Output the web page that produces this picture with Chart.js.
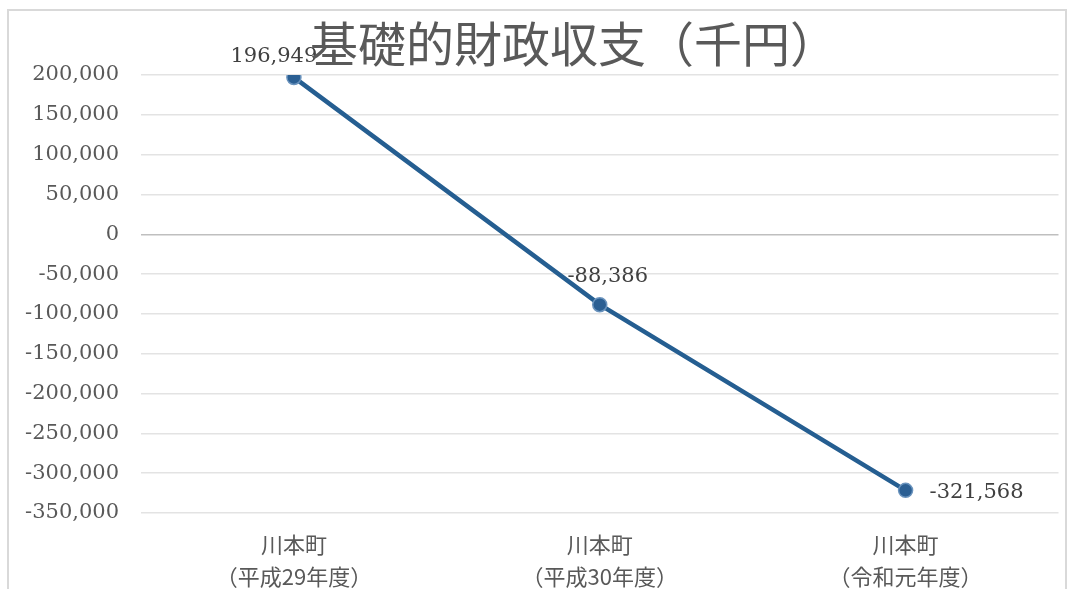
<!DOCTYPE html>
<html>
<head>
<meta charset="utf-8">
<script src="https://cdn.jsdelivr.net/npm/chart.js@4"></script>
<style>
  html, body { margin: 0; padding: 0; background: #fff; overflow: hidden; }
  #wrap { position: absolute; left: 0; top: 0; width: 1067px; height: 589px; }
  #frame { position: absolute; left: 7px; top: 9px; width: 1056px; height: 600px;
           border: 2px solid #d9d9d9; pointer-events: none; }
</style>
</head>
<body>
<div id="wrap"><canvas id="lineChart" width="1067" height="589"></canvas></div>
<div id="frame"></div>
<script>
// データ
const chartTitle = '基礎的財政収支（千円）';
const categories = [
  ['川本町', '（平成29年度）'],
  ['川本町', '（平成30年度）'],
  ['川本町', '（令和元年度）']
];
const values = [196949, -88386, -321568];
const yTicks = [200000, 150000, 100000, 50000, 0, -50000, -100000, -150000, -200000, -250000, -300000, -350000];

const numFont = '"DejaVu Serif", "Liberation Serif", serif';
const jpFont = '"Noto Sans CJK JP", "Noto Sans", sans-serif';
const fmt = v => v.toLocaleString('en-US');

// ラベルの位置 (点からのずれ)
const labelOffsets = [
  { dx: -20, dy: -21, align: 'center' },
  { dx: 8, dy: -28, align: 'center' },
  { dx: 24, dy: 2, align: 'left' }
];

// 値ラベルとタイトルを描く
const labelPlugin = {
  id: 'valueLabels',
  afterDatasetsDraw(chart) {
    const ctx = chart.ctx;
    const meta = chart.getDatasetMeta(0);
    ctx.save();
    ctx.font = '21px ' + numFont;
    ctx.fillStyle = '#404040';
    ctx.textBaseline = 'middle';
    meta.data.forEach((pt, i) => {
      const o = labelOffsets[i];
      ctx.textAlign = o.align;
      ctx.fillText(fmt(values[i]), pt.x + o.dx, pt.y + o.dy);
    });
    ctx.font = '48px ' + jpFont;
    ctx.fillStyle = '#595959';
    ctx.textAlign = 'center';
    ctx.fillText(chartTitle, 574, 44);
    ctx.restore();
  }
};

const ctx = document.getElementById('lineChart').getContext('2d');
const lineChart = new Chart(ctx, {
  type: 'line',
  data: {
    labels: categories,
    datasets: [{
      data: values,
      borderColor: '#255e91',
      borderWidth: 4.5,
      pointRadius: 7,
      pointBackgroundColor: '#2b5f93',
      pointBorderColor: '#6a93bd',
      pointBorderWidth: 1.5,
      tension: 0
    }]
  },
  options: {
    responsive: false,
    animation: false,
    layout: { padding: { top: 75, right: 8, bottom: 0, left: 0 } },
    scales: {
      x: {
        type: 'category',
        offset: true,
        grid: { display: false },
        border: { display: false },
        ticks: {
          color: '#595959',
          padding: 8,
          maxRotation: 0,
          font: { family: jpFont, size: 22, lineHeight: 1.45 }
        },
        afterFit(scale) { scale.height = 76; }
      },
      y: {
        min: -350000,
        max: 200000,
        afterBuildTicks(scale) { scale.ticks = yTicks.map(v => ({ value: v })); },
        grid: {
          color: c => (c.tick && c.tick.value === 0) ? '#bfbfbf' : '#e3e3e3',
          lineWidth: 1.5,
          drawTicks: false
        },
        border: { display: false },
        ticks: {
          color: '#595959',
          padding: 22,
          font: { family: numFont, size: 21 },
          callback: v => fmt(v)
        },
        afterFit(scale) { scale.width = 141; }
      }
    },
    plugins: {
      legend: { display: false },
      title: { display: false },
      tooltip: { enabled: false }
    }
  },
  plugins: [labelPlugin]
});
</script>
</body>
</html>
